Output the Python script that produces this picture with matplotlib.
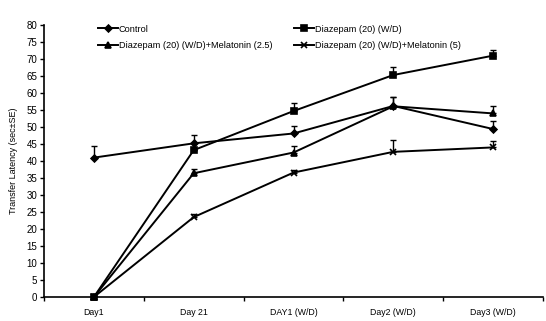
import matplotlib
matplotlib.use("Agg")
from matplotlib import pyplot as plt
import numpy as np

plt.rcParams['font.family'] = ['Liberation Sans', 'DejaVu Sans']

# categories on the x axis
days = ["Day1", "Day 21", "DAY1 (W/D)", "Day2 (W/D)", "Day3 (W/D)"]

# mean transfer latency per group
control = [41.0, 45.2, 48.1, 56.2, 49.4]
diazepam = [0, 43.2, 54.7, 65.3, 71.0]
mel_25 = [0, 36.4, 42.5, 56.1, 54.0]
mel_5 = [0, 23.5, 36.6, 42.7, 44.0]

# upper SE
control_se = [3.3, 2.4, 2.2, 2.7, 2.5]
diazepam_se = [0, 0.0, 2.3, 2.4, 1.8]
mel_25_se = [0, 1.2, 1.9, 2.8, 2.3]
mel_5_se = [0, 0.9, 0.7, 3.4, 1.8]

series = [
    ("Control", control, control_se, "D", 3.5),
    ("Diazepam (20) (W/D)", diazepam, diazepam_se, "s", 4.5),
    ("Diazepam (20) (W/D)+Melatonin (2.5)", mel_25, mel_25_se, "^", 5),
    ("Diazepam (20) (W/D)+Melatonin (5)", mel_5, mel_5_se, "x", 5),
]

fig = plt.figure(figsize=(5.46, 3.21), dpi=100)
ax = fig.add_axes([0.0806, 0.0748, 0.914, 0.8472])

x = np.arange(len(days))
handles = []
for name, vals, se, mk, ms in series:
    se = np.array(se)
    ax.errorbar(x, vals, yerr=[np.zeros_like(se), se], fmt="none",
                ecolor="black", elinewidth=1.0, capsize=2.2, capthick=1.0)
    h, = ax.plot(x, vals, color="black", lw=1.4, marker=mk, markersize=ms,
                 markeredgewidth=1.2, label=name, clip_on=False, zorder=3)
    handles.append(h)

ax.set_xlim(-0.5, 4.5)
ax.set_ylim(0, 80)
ax.set_yticks(range(0, 81, 5))
ax.set_xticks(x)
ax.set_xticklabels(days, fontsize=6.3)
ax.set_xticks(np.arange(-0.5, 4.6, 1), minor=True)
ax.tick_params(axis="x", which="major", length=0, pad=8)
ax.tick_params(axis="x", which="minor", length=3, width=1, direction="out")
ax.tick_params(axis="y", labelsize=7, length=3, width=1, pad=2)
ax.spines["top"].set_visible(False)
ax.spines["right"].set_visible(False)
ax.spines["left"].set_linewidth(1.2)
ax.spines["bottom"].set_linewidth(1.2)

ax.set_ylabel("Transfer Latency (sec±SE)", fontsize=6.5, labelpad=6)

# legend fills column by column: row 1 Control / Diazepam, row 2 the melatonin groups
order = [handles[0], handles[2], handles[1], handles[3]]
ax.legend(handles=order, ncol=2,
          loc="upper left", bbox_to_anchor=(0.1, 1.015), frameon=False,
          fontsize=6.6, handlelength=2.2, handletextpad=0.1,
          columnspacing=2.4, labelspacing=0.85, borderaxespad=0)

plt.savefig("out.png", dpi=100)
